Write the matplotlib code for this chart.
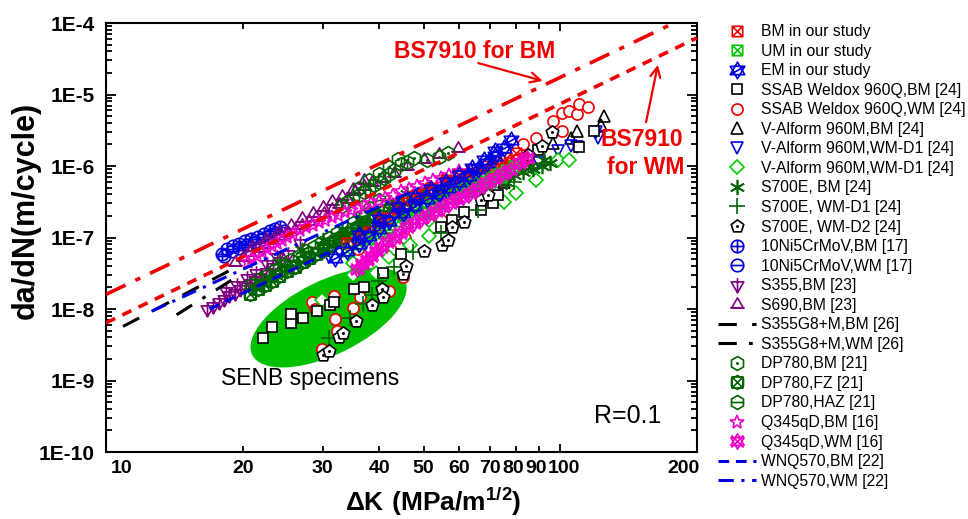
#!/usr/bin/env python3
"""Fatigue crack growth rate scatter (da/dN vs delta K) with BS7910 lines."""

import matplotlib
matplotlib.use("Agg")
import matplotlib.pyplot as plt
from matplotlib.patches import Ellipse
from matplotlib.path import Path
from matplotlib.transforms import Affine2D, IdentityTransform, ScaledTranslation

plt.rcParams.update({
    "font.family": "Liberation Sans",
    "mathtext.fontset": "custom",
    "mathtext.rm": "Liberation Sans",
    "mathtext.bf": "Liberation Sans:bold",
})

# --- values: delta K (MPa/m^1/2), da/dN (m/cycle) ---
bm_k = [34, 36, 38, 40, 42, 44, 46, 48, 50, 53, 56, 59, 62, 65, 68, 71, 74, 77, 80, 83,
        40, 44, 48, 52, 56, 60, 64, 68, 72, 76, 80]
bm_r = [8.5e-8, 1.0e-7, 1.2e-7, 1.5e-7, 1.9e-7, 2.3e-7, 3.0e-7, 3.5e-7, 4.0e-7, 4.6e-7,
        5.3e-7, 6.2e-7, 7.0e-7, 7.8e-7, 8.6e-7, 9.3e-7, 1.0e-6, 1.1e-6, 1.2e-6, 1.3e-6,
        1.9e-7, 2.7e-7, 3.8e-7, 5e-7, 6.4e-7, 7.6e-7, 8.8e-7, 1.0e-6, 1.15e-6, 1.3e-6, 1.5e-6]
um_k = [34, 36, 38, 40, 42, 44, 46, 48, 50, 52, 55, 58, 61, 64, 67, 70, 73, 76, 79,
        42, 46, 50, 54, 58, 62, 66, 70, 74]
um_r = [6.5e-8, 8.0e-8, 9.5e-8, 1.15e-7, 1.4e-7, 1.7e-7, 2.0e-7, 2.4e-7, 2.7e-7, 3.0e-7,
        3.5e-7, 4.2e-7, 4.9e-7, 5.6e-7, 6.2e-7, 7.0e-7, 7.9e-7, 8.8e-7, 1.0e-6,
        1.1e-7, 1.6e-7, 2.2e-7, 2.9e-7, 3.6e-7, 4.4e-7, 5.2e-7, 6e-7, 7e-7]
em_k = [32, 34, 36, 38, 40, 42, 45, 48, 51, 54, 57, 60, 63, 66, 69, 72, 75, 78,
        36, 40, 44, 48, 52, 56, 60, 64, 68, 72]
em_r = [5.1e-8, 6.5e-8, 8.2e-8, 1.05e-7, 1.3e-7, 1.7e-7, 2.2e-7, 2.8e-7, 3.4e-7, 4.1e-7,
        5.0e-7, 6.0e-7, 7.3e-7, 9.0e-7, 1.1e-6, 1.4e-6, 1.8e-6, 2.3e-6,
        1.1e-7, 1.8e-7, 2.7e-7, 3.7e-7, 4.8e-7, 6e-7, 7.6e-7, 9.4e-7, 1.2e-6, 1.6e-6]

ssab_bm_k = [22.2, 23.2, 25.6, 25.5, 27.2, 29.2, 31.2, 31.7, 35.1, 36.9, 40.8, 44.5,
             54.5, 57.9, 61.3, 66.8, 71, 72.8, 89.2, 110, 118.6]
ssab_bm_r = [3.9e-9, 5.6e-9, 6.4e-9, 8.5e-9, 7.5e-9, 9.4e-9, 1.14e-8, 1.25e-8, 1.9e-8, 2.03e-8, 3.2e-8, 5.9e-8,
             1.4e-7, 1.76e-7, 2.3e-7, 2.4e-7, 3.0e-7, 3.9e-7, 1.67e-6, 1.85e-6, 3.1e-6]
ssab_wm_k = [28.4, 28.9, 31.7, 32, 34.9, 32.3, 29.9, 36.3, 42, 45, 35.8, 42.3, 45.6,
             54.5, 71, 83, 88.3, 96.2, 101, 104.5, 109, 110, 115, 101]
ssab_wm_r = [1.25e-8, 1e-8, 1.5e-8, 7.2e-9, 1.03e-8, 4.9e-9, 2.8e-9, 1.47e-8, 1.8e-8, 2.8e-8, 6.9e-8, 6.7e-8, 9.8e-8,
             1.76e-7, 3.3e-7, 2e-6, 2.5e-6, 4.3e-6, 5.5e-6, 5.9e-6, 5.3e-6, 7.4e-6, 6.7e-6, 3.1e-6]
valform_bm_k = [75, 84, 96.2, 105.5, 109, 122.8, 124.7]
valform_bm_r = [6e-7, 1.1e-6, 2.1e-6, 2.5e-6, 3.1e-6, 3.7e-6, 5e-6]
valform_wm1_k = [30.9, 32.5, 37.2, 45, 55, 65, 75, 89.7, 98.7, 105.5, 109, 119.7, 120.8]
valform_wm1_r = [5.3e-8, 6.3e-8, 7.9e-8, 1.8e-7, 3.1e-7, 4.6e-7, 6.3e-7, 1.1e-6, 1.62e-6, 1.9e-6, 1.85e-6, 3e-6, 2.5e-6]
valform_wm2_k = [29.9, 34.9, 34.9, 39.2, 41.9, 46.8, 51.3, 51.3, 75, 79.8, 88.3, 98.7, 104.5]
valform_wm2_r = [1.34e-8, 3e-8, 4.4e-8, 3.2e-8, 5.3e-8, 7.9e-8, 1.05e-7, 1.76e-7, 3.1e-7, 4.2e-7, 6.4e-7, 1.2e-6, 1.2e-6]

s700_bm_k = [22, 23.5, 25, 26.5, 28, 30, 32, 34, 36, 38, 40, 42, 45, 48, 51, 54, 57, 60, 63, 66, 69, 72, 75, 79, 83, 87, 91, 95,
             24, 27, 30, 33, 36, 39, 42, 46, 50, 55, 60, 68, 76, 86, 92]
s700_bm_r = [2.4e-8, 3e-8, 3.7e-8, 4.3e-8, 5e-8, 6.5e-8, 8.5e-8, 1.1e-7, 1.4e-7, 1.7e-7, 2e-7, 2.5e-7, 3e-7, 3.3e-7, 3.8e-7, 4.1e-7,
             4.4e-7, 4.7e-7, 5e-7, 5.5e-7, 6e-7, 6.4e-7, 6.8e-7, 7.5e-7, 8.2e-7, 9e-7, 1e-6, 1.1e-6,
             4.6e-8, 6.6e-8, 9.2e-8, 1.3e-7, 1.8e-7, 2.4e-7, 3.1e-7, 4e-7, 4.4e-7, 4.9e-7, 5.6e-7, 5.2e-7, 6e-7, 1e-6, 1.2e-6]
s700_wm1_k = [30.9, 34.5, 36.7, 38.6, 40, 43, 47.3, 54.5, 66, 78.9]
s700_wm1_r = [3.9e-9, 7.5e-9, 1.17e-8, 1.57e-8, 2.5e-8, 3.9e-8, 6.3e-8, 1.16e-7, 2.4e-7, 6e-7]
s700_wm2_k = [30.1, 30.9, 32.6, 33.3, 35.6, 38.6, 40.6, 40.8, 45, 45.8, 50, 55, 56.5, 57.9,
              61.3, 66.8, 69.2, 74.7, 84.8, 91, 95.8]
s700_wm2_r = [2.3e-9, 2.6e-9, 4.1e-9, 4.6e-9, 6.8e-9, 1.14e-8, 1.9e-8, 1.47e-8, 3.1e-8, 4e-8, 6.5e-8, 7.9e-8, 9.2e-8, 1.4e-7,
              1.65e-7, 3.3e-7, 3.9e-7, 6.4e-7, 1.43e-6, 1.9e-6, 3e-6]

ni_bm_k = [18, 18.5, 19, 19.6, 20.2, 20.9, 21.6, 22.3, 23, 23.6, 24.2]
ni_bm_r = [5.9e-8, 7e-8, 7.6e-8, 8.2e-8, 8.9e-8, 9.6e-8, 1.03e-7, 1.12e-7, 1.22e-7, 1.32e-7, 1.4e-7]
ni_wm_k = [18.2, 18.9, 19.6, 20.4, 21.2, 22, 22.8, 23.6, 24.6]
ni_wm_r = [5.6e-8, 6.4e-8, 7.2e-8, 7.9e-8, 8.7e-8, 9.6e-8, 1.05e-7, 1.16e-7, 1.25e-7]
s355_k = [16.7, 17.2, 17.7, 18.2, 18.7, 19.2, 19.7, 20.2, 20.7, 21.3, 21.8, 22.5, 23.3, 24.2, 25.2, 26.8,
          18.4, 19.4, 20.4, 21.4, 22.6, 23.8]
s355_r = [1e-8, 1.1e-8, 1.25e-8, 1.4e-8, 1.55e-8, 1.7e-8, 1.9e-8, 2.1e-8, 2.3e-8, 2.55e-8, 2.8e-8, 3.3e-8,
          3.9e-8, 4.7e-8, 5.8e-8, 8.5e-8,
          1.8e-8, 2.2e-8, 2.7e-8, 3.2e-8, 4.2e-8, 5.3e-8]
s690_k = [19.2, 20, 20.8, 21.6, 22.4, 23.2, 24, 25, 26, 27, 28, 29, 30.2, 31.4, 32.6, 34, 35.4, 36.9,
          38.5, 40.5, 43, 46, 50, 54, 59.6,
          21, 22.5, 24, 25.5, 27, 28.5, 30, 31.5, 33, 35, 37]
s690_r = [4.6e-8, 5.4e-8, 6.2e-8, 7.1e-8, 8.1e-8, 9.2e-8, 1.05e-7, 1.18e-7, 1.33e-7, 1.5e-7, 1.7e-7, 1.95e-7,
          2.2e-7, 2.5e-7, 2.9e-7, 3.5e-7, 4.4e-7, 5.3e-7, 5.9e-7, 6.8e-7, 8e-7, 1e-6, 1.25e-6, 1.45e-6, 1.8e-6,
          7.4e-8, 9.5e-8, 1.25e-7, 1.5e-7, 1.85e-7, 2.2e-7, 2.7e-7, 3.2e-7, 3.8e-7, 4.8e-7, 6.4e-7]

dp_bm_k = [33, 34, 35, 36, 37, 38, 39, 40, 41, 42, 43, 44.5, 46, 47.6, 51, 54, 56.5, 36, 38, 40, 42, 44]
dp_bm_r = [2.8e-7, 3.1e-7, 3.5e-7, 3.9e-7, 4.3e-7, 4.8e-7, 5.4e-7, 6e-7, 6.8e-7, 7.7e-7, 8.8e-7, 1.05e-6,
           1.15e-6, 1.3e-6, 1.2e-6, 1.35e-6, 1.5e-6, 5e-7, 6.4e-7, 7.8e-7, 9.6e-7, 1.25e-6]
dp_fz_k = [20.8, 21.6, 22.4, 23.2, 24, 25, 26, 27, 28, 29, 30, 31, 32, 33.2, 34.4, 35.6, 37, 38.6, 40.2, 42, 44]
dp_fz_r = [1.6e-8, 1.9e-8, 2.2e-8, 2.5e-8, 2.9e-8, 3.4e-8, 3.9e-8, 4.5e-8, 5.2e-8, 5.9e-8, 6.7e-8, 7.7e-8, 8.8e-8,
           1.02e-7, 1.16e-7, 1.3e-7, 1.5e-7, 1.75e-7, 2e-7, 2.4e-7, 2.9e-7]
dp_haz_k = [20.9, 21.8, 22.7, 23.6, 24.6, 25.6, 26.6, 27.6, 28.7, 29.8, 31, 32.2, 33.5, 35, 36.6, 38.2, 40]
dp_haz_r = [2.2e-8, 2.6e-8, 3e-8, 3.5e-8, 4.1e-8, 4.8e-8, 5.5e-8, 6.4e-8, 7.4e-8, 8.5e-8, 9.9e-8, 1.15e-7,
            1.35e-7, 1.6e-7, 2e-7, 2.6e-7, 3.3e-7]
q_bm_k = [20.5, 21, 21.5, 22, 22.6, 23.2, 23.8, 24.4, 25, 25.8, 26.8, 27.6, 28.5, 29.4, 30.4, 31.4, 32.4, 33.5,
          34.6, 35.8, 37, 38.4, 39.8, 41.2, 42.8, 44.5, 46.4, 48.4, 50.4, 52.4, 54.5, 57, 60]
q_bm_r = [4.6e-8, 5.1e-8, 5.6e-8, 6.2e-8, 6.8e-8, 7.5e-8, 8.4e-8, 9.3e-8, 1.03e-7, 1.13e-7, 1.27e-7, 1.38e-7, 1.5e-7,
          1.63e-7, 1.77e-7, 1.92e-7, 2.08e-7, 2.25e-7, 2.42e-7, 2.6e-7, 2.8e-7, 3e-7, 3.25e-7, 3.55e-7, 3.95e-7, 4.4e-7,
          4.8e-7, 5.3e-7, 5.8e-7, 6.3e-7, 6.8e-7, 7.6e-7, 8.6e-7]
q_wm_k = [35.7, 36.6, 37.5, 38.4, 39.3, 40.3, 41.6, 43, 44.4, 46, 47.6, 49.4, 51.2, 53.2, 55.2, 57.2, 59.2, 61,
          63.4, 66, 68.6, 71.4, 74.4, 77.6, 81, 84.7]
q_wm_r = [3.6e-8, 4.2e-8, 4.9e-8, 5.6e-8, 6.4e-8, 7.4e-8, 8.6e-8, 1e-7, 1.15e-7, 1.38e-7, 1.6e-7, 1.8e-7, 2.05e-7,
          2.35e-7, 2.7e-7, 3e-7, 3.4e-7, 3.7e-7, 4.2e-7, 4.9e-7, 5.7e-7, 6.6e-7, 7.7e-7, 8.9e-7, 1.1e-6, 1.3e-6]

# lines
bs_bm_k = [10, 178]
bs_bm_r = [1.6e-8, 1e-4]
bs_wm_k = [10, 200]
bs_wm_r = [6.4e-9, 6.2e-5]
g8_bm_k = [10.9, 19.7]
g8_bm_r = [5.7e-9, 4.1e-8]
g8_wm_k = [14.3, 19.2]
g8_wm_r = [8.3e-9, 2.7e-8]
wnq_bm_k = [16.9, 63.5]
wnq_bm_r = [1e-8, 5.4e-7]
wnq_wm_k = [12.6, 51.8]
wnq_wm_r = [9.3e-9, 5.8e-7]

x_major = [10, 100]
x_minor = [20, 30, 40, 50, 60, 70, 80, 90, 200]
y_major = [1e-10, 1e-9, 1e-8, 1e-7, 1e-6, 1e-5, 1e-4]
y_labels = ["1E-10", "1E-9", "1E-8", "1E-7", "1E-6", "1E-5", "1E-4"]

RED, LIME, BLUE = "#f00000", "#00c800", "#0000e0"
DGREEN, PURPLE, MAGENTA = "#006400", "#800080", "#f000c8"


def seg(x0, y0, x1, y1):
    return Path([[x0, y0], [x1, y1]])


def combo(*paths):
    return Path.make_compound_path(*paths)


square = Path.unit_rectangle().transformed(Affine2D().translate(-0.5, -0.5).scale(1.6))
circle = Path.unit_circle()
up = Path.unit_regular_polygon(3)
down = up.transformed(Affine2D().scale(1, -1))
pent = Path.unit_regular_polygon(5)
hexa = Path.unit_regular_polygon(6)
cross = combo(seg(-0.8, -0.8, 0.8, 0.8), seg(-0.8, 0.8, 0.8, -0.8))
dot = Path.unit_circle().transformed(Affine2D().scale(0.1))

m_sq_x = combo(square, cross)
m_em = combo(up, down, seg(-0.87, -0.5, 0.87, 0.5))
m_pent_dot = combo(pent, dot)
m_cplus = combo(circle, seg(-1, 0, 1, 0), seg(0, -1, 0, 1))
m_cminus = combo(circle, seg(-1, 0, 1, 0))
m_down_bar = combo(down, seg(0, -1, 0, 1))
m_up_bar = combo(up, seg(-1.1, -0.5, 1.1, -0.5))
m_hex_dot = combo(hexa, dot)
m_hex_x = combo(hexa, square, cross)
m_hex_bar = combo(hexa, seg(-0.87, 0, 0.87, 0))
m_q_wm = combo(up, down, cross)

fig = plt.figure(figsize=(9.68, 5.19), dpi=100)
ax = fig.add_axes([106 / 968, 1 - 452 / 519, 591 / 968, 429 / 519])
ax.set_xscale("log")
ax.set_yscale("log")
ax.set_xlim(10, 200)
ax.set_ylim(1e-10, 1e-4)

# SENB ellipse, sized in screen pixels around a data-space centre
fig.canvas.draw()
cx, cy = ax.transData.transform((30.9, 7.6e-9))
ax.add_patch(Ellipse((cx, cy), 170, 74, angle=26, facecolor="#00c000", edgecolor="none",
                     transform=IdentityTransform(), zorder=1))


def scatter(k, r, marker, color, label, size=7, face="none", z=3):
    line, = ax.plot(k, r, ls="none", marker=marker, ms=size, mec=color, mfc=face,
                    mew=1.2, label=label, zorder=z)
    return line


h_bm = scatter(bm_k, bm_r, m_sq_x, RED, "BM in our study", 7.5, z=6)
h_um = scatter(um_k, um_r, m_sq_x, LIME, "UM in our study", 7.5, z=6)
h_em = scatter(em_k, em_r, m_em, BLUE, "EM in our study", 12, z=6)
h_ssab_bm = scatter(ssab_bm_k, ssab_bm_r, "s", "black", "SSAB Weldox 960Q,BM [24]", 7, "white", 3.2)
h_ssab_wm = scatter(ssab_wm_k, ssab_wm_r, "o", RED, "SSAB Weldox 960Q,WM [24]", 8, "white", 3)
h_vbm = scatter(valform_bm_k, valform_bm_r, "^", "black", "V-Alform 960M,BM [24]", 9)
h_vwm1 = scatter(valform_wm1_k, valform_wm1_r, "v", BLUE, "V-Alform 960M,WM-D1 [24]", 9)
h_vwm2 = scatter(valform_wm2_k, valform_wm2_r, "D", LIME, "V-Alform 960M,WM-D1 [24]", 7.5, "white", 3.1)
h_s700 = scatter(s700_bm_k, s700_bm_r, (6, 2, 0), DGREEN, "S700E, BM [24]", 11, z=5)
h_s700_1 = scatter(s700_wm1_k, s700_wm1_r, "+", DGREEN, "S700E, WM-D1 [24]", 11, z=3.5)
h_s700_2 = scatter(s700_wm2_k, s700_wm2_r, m_pent_dot, "black", "S700E, WM-D2 [24]", 9.5, "white", 3.6)
h_ni_bm = scatter(ni_bm_k, ni_bm_r, m_cplus, BLUE, "10Ni5CrMoV,BM [17]", 9)
h_ni_wm = scatter(ni_wm_k, ni_wm_r, m_cminus, BLUE, "10Ni5CrMoV,WM [17]", 9)
h_s355 = scatter(s355_k, s355_r, m_down_bar, PURPLE, "S355,BM [23]", 10.5)
h_s690 = scatter(s690_k, s690_r, m_up_bar, PURPLE, "S690,BM [23]", 10.5)
h_g8b, = ax.plot(g8_bm_k, g8_bm_r, color="black", lw=2.2, dashes=(6, 5), label="S355G8+M,BM [26]", zorder=4)
h_g8w, = ax.plot(g8_wm_k, g8_wm_r, color="black", lw=2.2, dashes=(6, 4, 1.2, 4), label="S355G8+M,WM [26]", zorder=4)
h_dp_bm = scatter(dp_bm_k, dp_bm_r, m_hex_dot, DGREEN, "DP780,BM [21]", 10, z=4)
h_dp_fz = scatter(dp_fz_k, dp_fz_r, m_hex_x, DGREEN, "DP780,FZ [21]", 10, z=4)
h_dp_haz = scatter(dp_haz_k, dp_haz_r, m_hex_bar, DGREEN, "DP780,HAZ [21]", 10, z=4)
h_q_bm = scatter(q_bm_k, q_bm_r, "*", MAGENTA, "Q345qD,BM [16]", 10, z=5.5)
h_q_wm = scatter(q_wm_k, q_wm_r, m_q_wm, MAGENTA, "Q345qD,WM [16]", 11, z=6.5)
h_wb, = ax.plot(wnq_bm_k, wnq_bm_r, color=BLUE, lw=2.2, dashes=(3.5, 2.2), label="WNQ570,BM [22]", zorder=5.8)
h_ww, = ax.plot(wnq_wm_k, wnq_wm_r, color=BLUE, lw=2.2, dashes=(5, 2.5, 1, 2.5), label="WNQ570,WM [22]", zorder=5.8)

ax.plot(bs_bm_k, bs_bm_r, color=RED, lw=2.6, dashes=(6, 3, 1.5, 3), zorder=7)
ax.plot(bs_wm_k, bs_wm_r, color=RED, lw=2.6, dashes=(2.8, 2.2), zorder=7)

# axes
ax.set_xticks(x_major)
ax.set_xticks(x_minor, minor=True)
ax.set_xticklabels(["10", "100"])
ax.set_xticklabels([str(v) for v in x_minor], minor=True)
ax.set_yticks(y_major)
ax.set_yticklabels(y_labels)
ax.yaxis.set_minor_locator(matplotlib.ticker.LogLocator(base=10, subs=range(2, 10), numticks=20))
ax.yaxis.set_minor_formatter(matplotlib.ticker.NullFormatter())
ax.tick_params(which="both", direction="in", top=True, right=True, width=1.3)
ax.tick_params(axis="y", which="major", length=7, pad=8, labelsize=15)
ax.tick_params(axis="y", which="minor", length=4)
ax.tick_params(axis="x", which="major", length=6, pad=6, labelsize=14)
ax.tick_params(axis="x", which="minor", length=4, pad=6, labelsize=14)
for t in ax.get_xticklabels(which="both") + ax.get_yticklabels():
    t.set_fontweight("bold")
for s in ax.spines.values():
    s.set_linewidth(1.5)

# some x labels sit off their ticks on the original
shifts = {"10": 16, "80": -3, "90": -3, "100": 4, "200": -13}
for t in ax.get_xticklabels(which="both"):
    if t.get_text() in shifts:
        t.set_transform(t.get_transform() + ScaledTranslation(shifts[t.get_text()] / 100, 0, fig.dpi_scale_trans))

fig.text(26 / 968, 1 - 210 / 519, "da/dN(m/cycle)", rotation=90, ha="center", va="center",
         fontsize=22, fontweight="bold")
fig.text(433 / 968, 1 - 502 / 519, r"$\mathbf{\Delta K\ (MPa/m^{1/2})}$", ha="center", va="center",
         fontsize=19)

# annotations
arrow = dict(arrowstyle="->", color=RED, lw=1.6, mutation_scale=18, shrinkA=0, shrinkB=0)
ax.annotate("", xy=(91.5, 1.55e-5), xytext=(66, 2.75e-5), arrowprops=arrow, zorder=8)
ax.annotate("", xy=(164, 2.6e-5), xytext=(154.5, 4.1e-6), arrowprops=arrow, zorder=8)
ax.text((475 - 106) / 591, 1 - (52 - 23) / 429, "BS7910 for BM", transform=ax.transAxes,
        color=RED, fontsize=16.5, fontweight="bold", ha="center", va="center", zorder=9)
ax.text((642 - 106) / 591, 1 - (139 - 23) / 429, "BS7910", transform=ax.transAxes,
        color=RED, fontsize=16.5, fontweight="bold", ha="center", va="center", zorder=9)
ax.text((646 - 106) / 591, 1 - (168 - 23) / 429, "for WM", transform=ax.transAxes,
        color=RED, fontsize=16.5, fontweight="bold", ha="center", va="center", zorder=9)
ax.text((310 - 106) / 591, 1 - (379 - 23) / 429, "SENB specimens", transform=ax.transAxes,
        fontsize=16.5, ha="center", va="center", zorder=9)
ax.text((628 - 106) / 591, 1 - (416 - 23) / 429, "R=0.1", transform=ax.transAxes,
        fontsize=18, ha="center", va="center", zorder=9)

handles = [h_bm, h_um, h_em, h_ssab_bm, h_ssab_wm, h_vbm, h_vwm1, h_vwm2, h_s700, h_s700_1, h_s700_2,
           h_ni_bm, h_ni_wm, h_s355, h_s690, h_g8b, h_g8w, h_dp_bm, h_dp_fz, h_dp_haz, h_q_bm, h_q_wm, h_wb, h_ww]
fig.legend(handles=handles, loc="upper left", bbox_to_anchor=(718 / 968, 1 - 24 / 519), frameon=False,
           fontsize=11.3, labelspacing=0.29, handlelength=2.4, handletextpad=0.35, borderpad=0,
           borderaxespad=0, numpoints=1)

fig.savefig("out.png", dpi=100)
